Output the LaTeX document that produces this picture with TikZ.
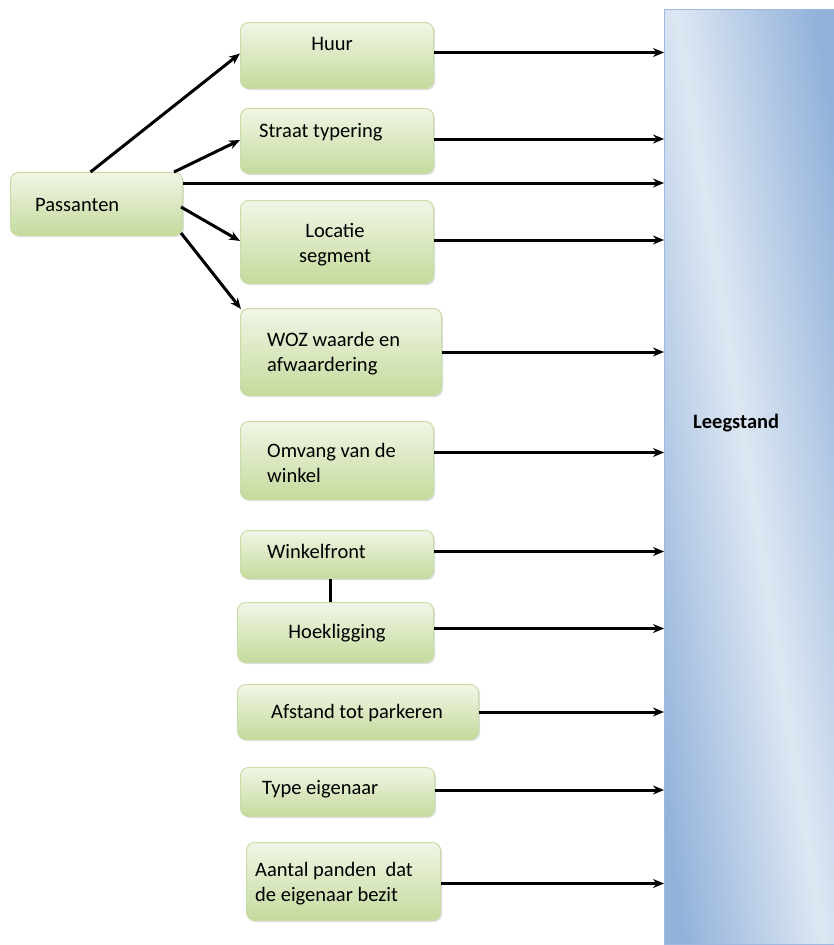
\documentclass[tikz,border=0pt]{standalone}
\usepackage{fontspec}
\setmainfont{Carlito}
\usetikzlibrary{arrows.meta,shadows,calc}
\definecolor{gLight}{HTML}{F1F6E6}
\definecolor{gDark}{HTML}{C4DA9C}
\definecolor{gBorder}{HTML}{CADDA8}
\definecolor{bLight}{HTML}{DDE7F3}
\definecolor{bDark}{HTML}{93B2DA}
\tikzset{
  box/.style={draw=gBorder, line width=1pt, rounded corners=8pt,
    top color=gLight, bottom color=gDark, inner sep=0pt, anchor=north west,
    drop shadow={opacity=0.25, shadow xshift=1.5pt, shadow yshift=-1.5pt}},
  txt/.style={font=\fontsize{20.5}{25}\selectfont, inner sep=0pt, text=black},
  arr/.style={line width=3pt, -{Stealth[length=11pt,width=9pt]}},
  plain/.style={line width=3pt}
}
\begin{document}
\begin{tikzpicture}[x=1pt,y=-1pt]
\useasboundingbox (0,0) rectangle (834,945);
% blue target
\node[inner sep=0pt, anchor=north west, minimum width=170pt, minimum height=935pt,
  left color=bDark, right color=bDark, middle color=bLight, shading angle=99,
  draw=bDark!90, line width=0.8pt] (leeg) at (664,9) {};
\node[txt, font=\fontsize{20.5}{25}\selectfont\bfseries, anchor=base west] (leegt) at (693,428) {Leegstand};
% boxes
\node[box, minimum width=172pt, minimum height=63pt] (pass) at (10,172) {};
\node[box, minimum width=193pt, minimum height=66pt] (huur) at (240,22) {};
\node[box, minimum width=193pt, minimum height=65pt] (straat) at (240,108) {};
\node[box, minimum width=193pt, minimum height=83pt] (loc) at (240,200) {};
\node[box, minimum width=201pt, minimum height=87pt] (woz) at (240,308) {};
\node[box, minimum width=193pt, minimum height=78pt] (omv) at (240,421) {};
\node[box, minimum width=193pt, minimum height=48pt] (front) at (240,530) {};
\node[box, minimum width=196pt, minimum height=60pt] (hoek) at (237,602) {};
\node[box, minimum width=241pt, minimum height=55pt] (afst) at (237,684) {};
\node[box, minimum width=194pt, minimum height=49pt] (type) at (240,767) {};
\node[box, minimum width=194pt, minimum height=78pt] (aant) at (246,842) {};
% texts
\node[txt, anchor=base west] (passt) at (35,211) {Passanten};
\node[txt, anchor=base] (huurt) at (332,50) {Huur};
\node[txt, anchor=base west] (straatt) at (259,137) {Straat typering};
\node[txt, align=center] (loct) at (335,244.5) {Locatie\\segment};
\node[txt, align=left, anchor=west] (wozt) at (267,353.5) {WOZ waarde en\\afwaardering};
\node[txt, align=left, anchor=west] (omvt) at (267,463) {Omvang van de\\winkel};
\node[txt, anchor=base west] (frontt) at (267,558) {Winkelfront};
\node[txt, anchor=base] (hoekt) at (337,638) {Hoekligging};
\node[txt, anchor=base] (afstt) at (357,718) {Afstand tot parkeren};
\node[txt, anchor=base west] (typet) at (262,794) {Type eigenaar};
\node[txt, align=left, anchor=west] (aantt) at (255,884) {Aantal panden\ \ dat\\de eigenaar bezit};
% connectors from Passanten
\draw[arr] ([xshift=-6pt]pass.north) -- ([yshift=2pt]huur.west);
\draw[arr] ([xshift=-9pt]pass.north east) -- ([yshift=1pt]straat.west);
\draw[arr] ([yshift=-11pt]pass.north east) -- ([yshift=-11pt]pass.north east -| leeg.west);
\draw[arr] ([yshift=-35pt,xshift=-2pt]pass.north east) -- ([yshift=1pt]loc.west);
\draw[arr] ([yshift=-61pt,xshift=-2pt]pass.north east) -- ([xshift=1pt,yshift=-1pt]woz.north west);
% connectors to Leegstand
\draw[arr] ([yshift=3pt]huur.east) -- ([yshift=3pt]huur.east -| leeg.west);
\draw[arr] ([yshift=2pt]straat.east) -- ([yshift=2pt]straat.east -| leeg.west);
\draw[arr] ([yshift=2pt]loc.east) -- ([yshift=2pt]loc.east -| leeg.west);
\draw[arr] (woz.east) -- (woz.east -| leeg.west);
\draw[arr] ([yshift=8pt]omv.east) -- ([yshift=8pt]omv.east -| leeg.west);
\draw[arr] ([yshift=3pt]front.east) -- ([yshift=3pt]front.east -| leeg.west);
\draw[arr] ([yshift=4pt]hoek.east) -- ([yshift=4pt]hoek.east -| leeg.west);
\draw[arr] (afst.east) -- (afst.east -| leeg.west);
\draw[arr] ([yshift=2pt]type.east) -- ([yshift=2pt]type.east -| leeg.west);
\draw[arr] ([yshift=-2pt]aant.east) -- ([yshift=-2pt]aant.east -| leeg.west);
% winkelfront - hoekligging
\draw[plain] (front.south -| 330,0) -- (hoek.north -| 330,0);
\end{tikzpicture}
\end{document}
